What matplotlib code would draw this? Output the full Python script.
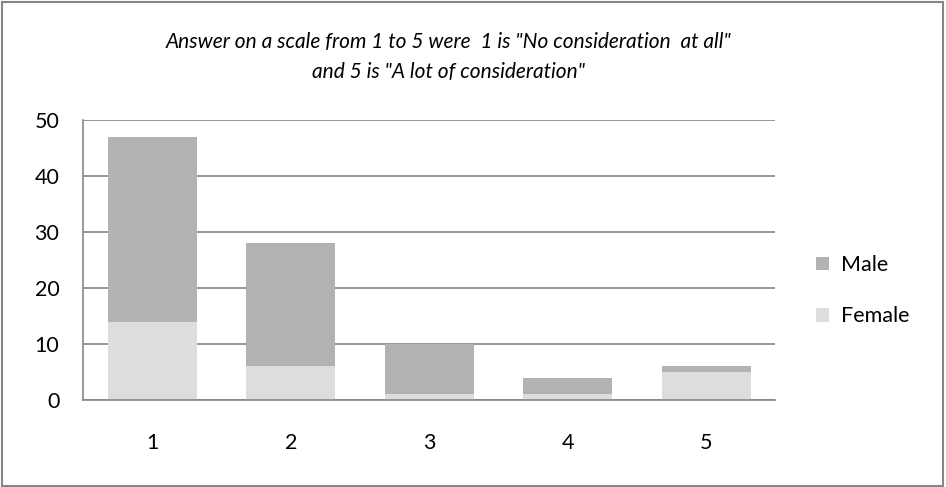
import numpy as np
from matplotlib import pyplot as plt
from matplotlib.patches import Rectangle

plt.rcParams['font.family'] = ['Lato', 'DejaVu Sans']

categories = ['1', '2', '3', '4', '5']
female = [14, 6, 1, 1, 5]
male = [33, 22, 9, 3, 1]
yticks = [0, 10, 20, 30, 40, 50]

male_col = '#b2b2b2'
female_col = '#dddddd'
line_col = '#868686'

fig = plt.figure(figsize=(9.46, 4.87), dpi=100)
ax = fig.add_axes([0.0877, 0.1786, 0.732, 0.575])

x = np.arange(len(categories))
ax.bar(x, female, width=0.64, color=female_col, label='Female', zorder=2)
ax.bar(x, male, width=0.64, bottom=female, color=male_col, label='Male', zorder=2)

ax.set_xlim(-0.5, len(categories) - 0.5)
ax.set_ylim(0, 50)
ax.set_yticks(yticks)
ax.set_xticks(x)
ax.set_xticklabels(categories)
ax.yaxis.grid(True, color=line_col, lw=1.2, zorder=0)
ax.set_axisbelow(True)
for s in ['top', 'right']:
    ax.spines[s].set_visible(False)
for s in ['left', 'bottom']:
    ax.spines[s].set_color(line_col)
    ax.spines[s].set_linewidth(1.2)
ax.tick_params(axis='both', length=0, labelsize=15.5, colors='black')
ax.tick_params(axis='y', pad=17)
ax.tick_params(axis='x', pad=24)

# legend, Male listed first
h, l = ax.get_legend_handles_labels()
ax.legend(h[::-1], l[::-1], loc='center left', bbox_to_anchor=(1.03, 0.39),
          frameon=False, fontsize=15.5, handlelength=0.6, handleheight=0.6,
          handletextpad=0.6, labelspacing=1.45)

fig.text(0.474, 0.914, 'Answer on a scale from 1 to 5 were  1 is "No consideration  at all"',
         ha='center', va='center', fontsize=15, style='italic')
fig.text(0.474, 0.852, 'and 5 is "A lot of consideration"',
         ha='center', va='center', fontsize=15, style='italic')

# chart frame
fig.patches.append(Rectangle((0.002, 0.003), 0.995, 0.993, transform=fig.transFigure,
                             fill=False, edgecolor=line_col, lw=1.5))

plt.savefig('out.png', dpi=100)
